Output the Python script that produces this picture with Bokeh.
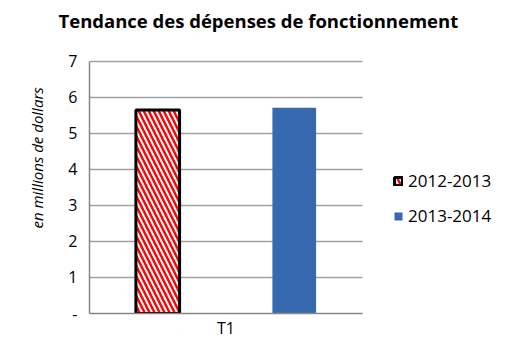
from bokeh.plotting import figure
from bokeh.models import Range1d, FixedTicker, Legend, LegendItem, ColumnDataSource, Title
from bokeh.transform import dodge
from bokeh.embed import file_html
from bokeh.resources import INLINE

categories = ["T1"]
values_2012_2013 = [5.65]
values_2013_2014 = [5.71]
series_names = ["2012-2013", "2013-2014"]
y_ticks = [0, 1, 2, 3, 4, 5, 6, 7]
title_text = "Tendance des dépenses de fonctionnement"
y_label_text = "en millions de dollars"

cat_pos = [i + 0.5 for i in range(len(categories))]
src = ColumnDataSource(dict(x=cat_pos, a=values_2012_2013, b=values_2013_2014))

p = figure(width=508, height=341, x_range=Range1d(0, 1.5055), y_range=Range1d(0, 7.576),
           output_backend="svg", toolbar_location=None,
           min_border_left=89, min_border_right=8, min_border_top=0, min_border_bottom=20)
p.outline_line_color = None
p.background_fill_color = "white"

grid_ok = True
try:
    p.ygrid.cross_bounds = (0, len(categories))
except Exception:
    grid_ok = False
p.ygrid.ticker = FixedTicker(ticks=y_ticks)
if grid_ok:
    p.ygrid.grid_line_color = "#A0A0A0"
    p.ygrid.grid_line_width = 1.5
else:
    p.ygrid.grid_line_color = None
    p.segment(x0=[0] * (len(y_ticks) - 1), x1=[len(categories)] * (len(y_ticks) - 1),
              y0=y_ticks[1:], y1=y_ticks[1:], line_color="#A0A0A0", line_width=1.5)
p.xgrid.grid_line_color = None

r1 = p.vbar(x=dodge("x", -0.25), top="a", width=0.16, source=src,
            fill_color="white", hatch_pattern="\\", hatch_color="red", hatch_weight=2.4, hatch_scale=10,
            line_color="black", line_width=3)
r2 = p.vbar(x=dodge("x", 0.25), top="b", width=0.16, source=src,
            fill_color="#3669AF", line_color=None)

p.title.text = title_text
p.title.text_font = "Open Sans"
p.title.text_font_size = "18.5px"
p.title.text_font_style = "bold"
p.title.text_color = "black"
p.title.align = "left"
p.title.offset = -31
p.title.vertical_align = "middle"
p.title.standoff = 13

ylab = Title(text=y_label_text, align="left", offset=85, vertical_align="middle", standoff=36,
             text_font="Open Sans", text_font_size="15px", text_font_style="italic",
             text_color="black")
p.add_layout(ylab, "left")

p.xaxis.ticker = FixedTicker(ticks=cat_pos)
p.xaxis.major_label_overrides = {c: lab for c, lab in zip(cat_pos, categories)}
p.xaxis.bounds = (0, len(categories))
p.yaxis.ticker = FixedTicker(ticks=y_ticks)
p.yaxis.bounds = (0, 7)
p.yaxis.major_label_overrides = {0: "-"}
for ax in (p.xaxis, p.yaxis):
    ax.axis_line_color = "#868686"
    ax.axis_line_width = 1.5
    ax.major_tick_line_color = None
    ax.minor_tick_line_color = None
    ax.major_tick_out = 0
    ax.major_tick_in = 0
    ax.minor_tick_out = 0
    ax.minor_tick_in = 0
    ax.major_label_text_font = "Open Sans"
    ax.major_label_text_font_size = "16px"
    ax.major_label_text_color = "black"
p.yaxis.major_label_standoff = 12
p.xaxis.major_label_standoff = 3

legend = Legend(items=[LegendItem(label=series_names[0], renderers=[r1]),
                       LegendItem(label=series_names[1], renderers=[r2])],
                location=(304, 86), border_line_color=None, background_fill_alpha=0,
                padding=0, margin=0, spacing=12, glyph_width=10, glyph_height=10,
                label_standoff=5, label_height=20, label_text_font="Open Sans",
                label_text_font_size="17px", label_text_color="black")
p.add_layout(legend, "center")

open("out.html", "w").write(file_html(p, INLINE))
